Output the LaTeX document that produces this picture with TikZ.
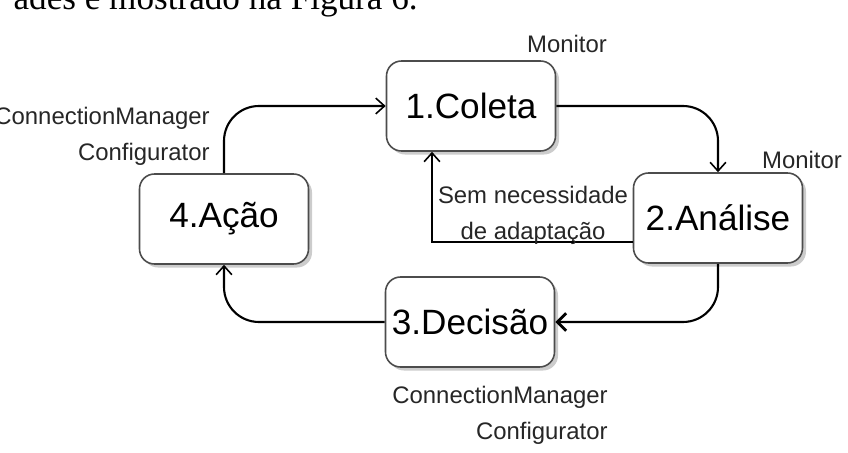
\documentclass[tikz,border=0pt]{standalone}
\usepackage{fontspec}
\setmainfont{Liberation Sans}
\newfontfamily\bodyserif{Liberation Serif}
\usetikzlibrary{arrows.meta,positioning,calc,shadows}

\begin{document}
\begin{tikzpicture}[
  stage/.style={draw=black!70,fill=white,line width=0.9pt,rounded corners=0.3cm,
    minimum width=3.38cm,minimum height=1.8cm,inner sep=0pt,
    font=\fontsize{20}{24}\selectfont,
    drop shadow={shadow xshift=2pt,shadow yshift=-2pt,fill=black!40,opacity=0.5}},
  lbl/.style={font=\fontsize{13.6}{20.4}\selectfont,text=black!85,inner sep=0pt},
  flow/.style={line width=1.2pt,rounded corners=0.7cm,
    -{Straight Barb[length=5pt,width=9pt,line width=0.9pt]}}]
  \useasboundingbox (0,0) rectangle (16.96,9.06);
  \clip (0,0) rectangle (16.96,9.06);
  % cut-off line of body text above the figure
  \node[font=\bodyserif\fontsize{20}{24}\selectfont,anchor=base east,inner sep=0pt]
    (txt) at (8.36,8.87) {ades é mostrado na Figura 6.};
  % the four stages of the loop
  \node[stage] (coleta) at (9.42,6.94) {1.Coleta};
  \node[stage] (analise) at (14.36,4.70) {2.Análise};
  \node[stage] (decisao) at (9.40,2.62) {3.Decisão};
  \node[stage] (acao) at (4.48,4.68) {4.Ação};
  % components in charge of each stage
  \node[lbl] (mon1) at (11.34,8.18) {Monitor};
  \node[lbl] (mon2) at (16.04,5.86) {Monitor};
  \node[lbl,align=right,anchor=east] (cm1) at (4.2,6.34) {ConnectionManager\\Configurator};
  \node[lbl,align=right,anchor=east] (cm2) at (12.16,0.76) {ConnectionManager\\Configurator};
  % the loop itself
  \draw[flow] (coleta.east) -| (analise.north);
  \draw[flow,-{Straight Barb[length=5pt,width=10pt,line width=1.6pt]}]
    (analise.south) |- (decisao.east);
  \draw[flow] (decisao.west) -| (acao.south);
  \draw[flow] (acao.north) |- (coleta.west);
  % shortcut back to collection
  \draw[flow,sharp corners] ([yshift=-0.48cm]analise.west) -| ([xshift=-0.78cm]coleta.south);
  \node[lbl,align=center] (semadapt) at (10.66,4.76) {Sem necessidade\\de adaptação};
\end{tikzpicture}
\end{document}
